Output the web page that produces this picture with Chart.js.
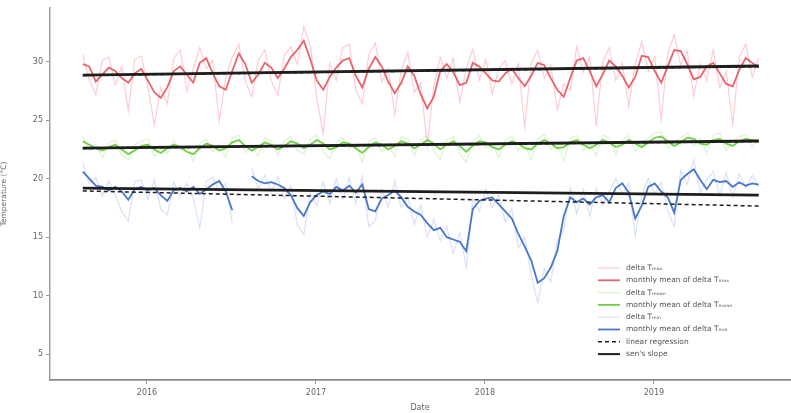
<!DOCTYPE html>
<html>
<head>
<meta charset="utf-8">
<script src="https://cdn.jsdelivr.net/npm/chart.js@4.4.0/dist/chart.umd.min.js"></script>
<style>
  html, body { margin: 0; padding: 0; background: #fff; }
  #wrap { width: 791px; height: 413px; }
</style>
</head>
<body>
<div id="wrap"><canvas id="tempChart"></canvas></div>
<script>
// Time grid: one point every two weeks, as decimal years
const startYear = 2015.62;
const stepYear = 1 / 26;

const xTicks = [2016, 2017, 2018, 2019];
const yTicks = [5, 10, 15, 20, 25, 30];

// delta T max (daily, light) and its monthly mean
const maxDaily = [
  30.6, 28.4, 27.2, 30.1, 30.4, 28.0, 29.6, 25.8, 30.2, 30.5,
  27.9, 24.6, 27.8, 26.4, 30.3, 31.0, 27.5, 29.4, 31.2, 29.4,
  30.1, 24.9, 28.7, 30.4, 31.5, 28.3, 27.0, 30.1, 31.0, 28.4,
  27.1, 30.5, 31.3, 29.8, 33.0, 31.4, 26.9, 23.8, 29.9, 28.4,
  31.2, 31.5, 27.6, 26.4, 30.6, 31.6, 28.3, 29.4, 25.5, 29.3,
  30.8, 27.4, 28.2, 22.8, 27.9, 30.4, 28.6, 30.3, 26.5, 29.4,
  31.1, 28.4, 30.2, 27.2, 29.4, 30.1, 28.1, 29.8, 24.4, 29.9,
  31.0, 28.6, 29.7, 25.9, 28.1, 27.5, 31.3, 29.1, 30.4, 24.5,
  30.0, 31.2, 28.4, 29.9, 26.2, 29.8, 31.7, 29.2, 30.4, 25.1,
  30.7, 32.3, 29.7, 30.9, 27.1, 29.8, 28.4, 31.0, 27.8, 29.2,
  24.6, 30.4, 31.5, 28.7, 30.3
];
const maxMonthly = [
  29.8, 29.6, 28.3, 28.9, 29.5, 29.2, 28.6, 28.2, 29.0, 29.4,
  28.4, 27.4, 26.9, 27.8, 29.2, 29.6, 28.9, 28.2, 29.9, 30.3,
  29.0, 27.9, 27.6, 29.2, 30.7, 29.8, 28.2, 28.9, 29.9, 29.5,
  28.6, 29.4, 30.4, 31.0, 31.8, 30.2, 28.4, 27.6, 28.7, 29.5,
  30.1, 30.3, 28.8, 27.8, 29.4, 30.4, 29.6, 28.3, 27.3, 28.2,
  29.6, 28.8, 27.2, 26.0, 27.0, 29.2, 29.8, 29.1, 28.0, 28.2,
  29.9, 29.6, 29.0, 28.4, 28.3, 29.0, 29.4, 28.6, 27.9, 28.8,
  29.9, 29.7, 28.6, 27.6, 27.0, 28.6, 30.1, 30.3, 29.2, 27.9,
  28.9, 30.1, 29.6, 28.8, 27.8, 28.7, 30.5, 30.4, 29.2, 28.2,
  29.6, 31.0, 30.9, 29.8, 28.5, 28.7, 29.6, 29.9, 29.0, 28.1,
  27.9, 29.3, 30.3, 29.9, 29.5
];

// delta T mean
const meanDaily = [
  23.6, 22.4, 22.9, 21.8, 23.1, 23.3, 22.0, 21.6, 22.9, 23.2,
  23.4, 21.9, 22.6, 22.1, 23.3, 22.4, 22.8, 21.5, 23.0, 23.4,
  22.3, 22.9, 21.9, 23.5, 23.7, 22.2, 22.8, 21.9, 23.5, 23.2,
  22.0, 23.2, 23.6, 22.4, 22.1, 23.4, 23.7, 22.3, 21.7, 23.1,
  23.5, 22.5, 22.9, 21.4, 23.2, 23.5, 22.3, 22.9, 21.9, 23.6,
  23.4, 22.0, 23.3, 23.7, 22.4, 21.6, 23.3, 23.6, 22.2, 21.4,
  23.2, 23.7, 22.6, 23.1, 21.8, 23.3, 23.6, 22.4, 23.0, 21.6,
  23.4, 23.8, 22.5, 23.0, 21.5, 23.5, 23.7, 22.4, 23.0, 22.0,
  23.7, 23.5, 22.1, 23.3, 23.7, 22.3, 23.1, 23.5, 23.9, 24.0,
  22.6, 23.2, 23.5, 23.9, 22.8, 23.4, 22.2, 23.7, 23.9, 22.4,
  23.2, 23.6, 23.8, 22.7, 23.5
];
const meanMonthly = [
  23.2, 22.9, 22.6, 22.4, 22.7, 22.9, 22.5, 22.1, 22.4, 22.8,
  22.9, 22.5, 22.2, 22.6, 22.9, 22.7, 22.3, 22.1, 22.6, 23.0,
  22.8, 22.4, 22.6, 23.1, 23.3, 22.8, 22.4, 22.7, 23.1, 22.9,
  22.5, 22.8, 23.2, 23.0, 22.6, 22.9, 23.3, 23.0, 22.5, 22.7,
  23.1, 23.0, 22.6, 22.2, 22.7, 23.1, 22.9, 22.5, 22.8, 23.2,
  23.0, 22.6, 22.9, 23.3, 23.0, 22.5, 22.9, 23.2, 22.8, 22.3,
  22.8, 23.2, 23.1, 22.7, 22.5, 22.9, 23.2, 23.0, 22.6, 22.5,
  23.0, 23.3, 23.0, 22.6, 22.7, 23.1, 23.3, 22.9, 22.6, 22.9,
  23.3, 23.1, 22.7, 22.9, 23.3, 23.0, 22.7, 23.1, 23.5, 23.6,
  23.2, 22.8, 23.1, 23.5, 23.4, 23.0, 22.9, 23.3, 23.4, 23.0,
  22.8, 23.2, 23.4, 23.3, 23.2
];

// delta T min (two missing points mid 2016)
const minDaily = [
  21.3, 19.6, 20.1, 18.5, 19.8, 18.6, 17.2, 16.4, 19.8, 19.9,
  18.2, 19.9, 17.4, 16.9, 19.7, 18.5, 19.6, 18.3, 15.8, 19.8,
  20.1, 18.9, 19.6, 16.2, null, null, 20.9, 19.1, 20.3, 18.8,
  20.2, 18.3, 19.4, 16.1, 15.2, 18.8, 17.7, 19.7, 17.9, 20.0,
  18.2, 20.1, 17.9, 20.2, 15.9, 16.4, 19.1, 17.6, 19.8, 17.5,
  18.4, 16.1, 17.7, 15.0, 16.5, 14.7, 15.9, 13.6, 15.4, 12.4,
  18.3, 17.2, 19.1, 17.5, 18.6, 16.3, 17.4, 14.1, 15.0, 11.8,
  9.4, 12.3, 11.2, 14.7, 15.6, 19.2, 17.0, 19.1, 16.8, 19.2,
  17.7, 18.9, 20.0, 18.7, 19.6, 15.1, 18.6, 20.0, 18.7, 19.7,
  17.3, 15.9, 20.7, 19.5, 21.6, 18.8, 19.9, 20.6, 18.6, 20.5,
  18.4, 20.4, 19.2, 20.3, 19.3
];
const minMonthly = [
  20.6, 20.0, 19.4, 19.3, 19.0, 19.3, 18.9, 18.2, 19.1, 19.3,
  19.0, 19.2, 18.6, 18.1, 19.0, 19.2, 18.9, 19.3, 18.7, 19.1,
  19.5, 19.8, 18.9, 17.3, null, null, 20.2, 19.8, 19.6, 19.7,
  19.5, 19.2, 18.6, 17.5, 16.8, 18.0, 18.6, 18.9, 18.7, 19.3,
  19.0, 19.4, 18.8, 19.5, 17.4, 17.2, 18.3, 18.6, 19.0, 18.4,
  17.6, 17.2, 16.9, 16.2, 15.6, 15.8, 15.0, 14.8, 14.6, 13.8,
  17.4, 18.1, 18.3, 18.4, 17.8, 17.2, 16.6, 15.3, 14.2, 13.0,
  11.1, 11.5, 12.4, 13.8, 16.8, 18.4, 18.0, 18.3, 17.8, 18.4,
  18.6, 18.0, 19.2, 19.6, 18.8, 16.6, 17.7, 19.3, 19.6, 18.9,
  18.4, 17.1, 19.9, 20.4, 20.8, 19.9, 19.1, 19.9, 19.7, 19.8,
  19.3, 19.7, 19.4, 19.6, 19.5
];

// trend lines: start and end values
const trendYears = [2015.62, 2019.62];
const maxSen = [28.86, 29.63];
const maxReg = [28.82, 29.58];
const meanSen = [22.62, 23.22];
const meanReg = [22.58, 23.18];
const minSen = [19.2, 18.6];
const minReg = [18.95, 17.66];

function toPoints(values) {
  return values.map((v, i) => ({ x: startYear + i * stepYear, y: v }));
}
function toTrend(values) {
  return values.map((v, i) => ({ x: trendYears[i], y: v }));
}

const RED = 'rgba(226,62,72,0.8)';
const RED_LIGHT = 'rgba(250,145,155,0.45)';
const GREEN = 'rgb(112,208,68)';
const GREEN_LIGHT = 'rgba(150,225,120,0.35)';
const BLUE = 'rgb(74,118,202)';
const BLUE_LIGHT = 'rgba(140,170,232,0.35)';
const BLACK = '#1e1e1e';

function series(label, values, color, width, order, legend) {
  return {
    label: label, data: toPoints(values), borderColor: color, borderWidth: width,
    pointRadius: 0, tension: 0, spanGaps: false, fill: false, order: order, showInLegend: legend
  };
}
function trend(label, values, dashed, legend) {
  return {
    label: label, data: toTrend(values), borderColor: BLACK,
    borderWidth: dashed ? 1.5 : 2.8, borderDash: dashed ? [4, 3] : [],
    pointRadius: 0, fill: false, order: 0, showInLegend: legend
  };
}

const datasets = [
  series('delta T\u2098\u2090\u2093', maxDaily, RED_LIGHT, 1.2, 3, true),
  series('monthly mean of delta T\u2098\u2090\u2093', maxMonthly, RED, 1.8, 1, true),
  series('delta T\u2098\u2091\u2090\u2099', meanDaily, GREEN_LIGHT, 1.2, 3, true),
  series('monthly mean of delta T\u2098\u2091\u2090\u2099', meanMonthly, GREEN, 1.8, 1, true),
  series('delta T\u2098\u1d62\u2099', minDaily, BLUE_LIGHT, 1.2, 3, true),
  series('monthly mean of delta T\u2098\u1d62\u2099', minMonthly, BLUE, 1.8, 1, true),
  trend('linear regression', maxReg, true, true),
  trend("sen's slope", maxSen, false, true),
  trend('linear regression', meanReg, true, false),
  trend("sen's slope", meanSen, false, false),
  trend('linear regression', minReg, true, false),
  trend("sen's slope", minSen, false, false)
];

// Legend drawn in the lower right corner of the plot
const cornerLegend = {
  id: 'cornerLegend',
  afterDatasetsDraw(chart) {
    const ctx = chart.ctx;
    let y = 268;
    ctx.save();
    ctx.font = '7.5px "DejaVu Sans"';
    ctx.textBaseline = 'middle';
    chart.data.datasets.forEach(ds => {
      if (!ds.showInLegend) return;
      ctx.strokeStyle = ds.borderColor;
      ctx.lineWidth = Math.min(ds.borderWidth, 2);
      ctx.setLineDash(ds.borderDash || []);
      ctx.beginPath();
      ctx.moveTo(598, y);
      ctx.lineTo(620, y);
      ctx.stroke();
      ctx.setLineDash([]);
      ctx.fillStyle = '#555';
      ctx.fillText(ds.label, 626, y);
      y += 12.3;
    });
    ctx.restore();
  }
};

const ctx = document.getElementById('tempChart').getContext('2d');
const tempChart = new Chart(ctx, {
  type: 'line',
  data: { datasets: datasets },
  options: {
    responsive: true,
    maintainAspectRatio: false,
    animation: false,
    layout: { padding: { top: 8, right: 1, left: 0, bottom: 0 } },
    plugins: { legend: { display: false }, tooltip: { enabled: false } },
    scales: {
      x: {
        type: 'linear',
        min: 2015.426,
        max: 2019.805,
        afterBuildTicks: scale => { scale.ticks = xTicks.map(v => ({ value: v })); },
        afterFit: scale => { scale.height = 33; },
        ticks: { color: '#666', font: { size: 8, family: 'DejaVu Sans' }, padding: 4, callback: v => String(v) },
        grid: { drawOnChartArea: false, tickLength: 4, color: '#999' },
        border: { color: '#888', width: 1.8 },
        title: { display: true, text: 'Date', color: '#666', font: { size: 8, family: 'DejaVu Sans' }, padding: 0 }
      },
      y: {
        min: 2.79,
        max: 34.59,
        afterBuildTicks: scale => { scale.ticks = yTicks.map(v => ({ value: v })); },
        afterFit: scale => { scale.width = 50; },
        ticks: { color: '#666', font: { size: 8, family: 'DejaVu Sans' }, padding: 3 },
        grid: { drawOnChartArea: false, tickLength: 4, color: '#999' },
        border: { color: '#999', width: 1.4 },
        title: { display: true, text: 'Temperature (\u00b0C)', color: '#666', font: { size: 7.5, family: 'DejaVu Sans' }, padding: 0 }
      }
    }
  },
  plugins: [cornerLegend]
});
</script>
</body>
</html>
